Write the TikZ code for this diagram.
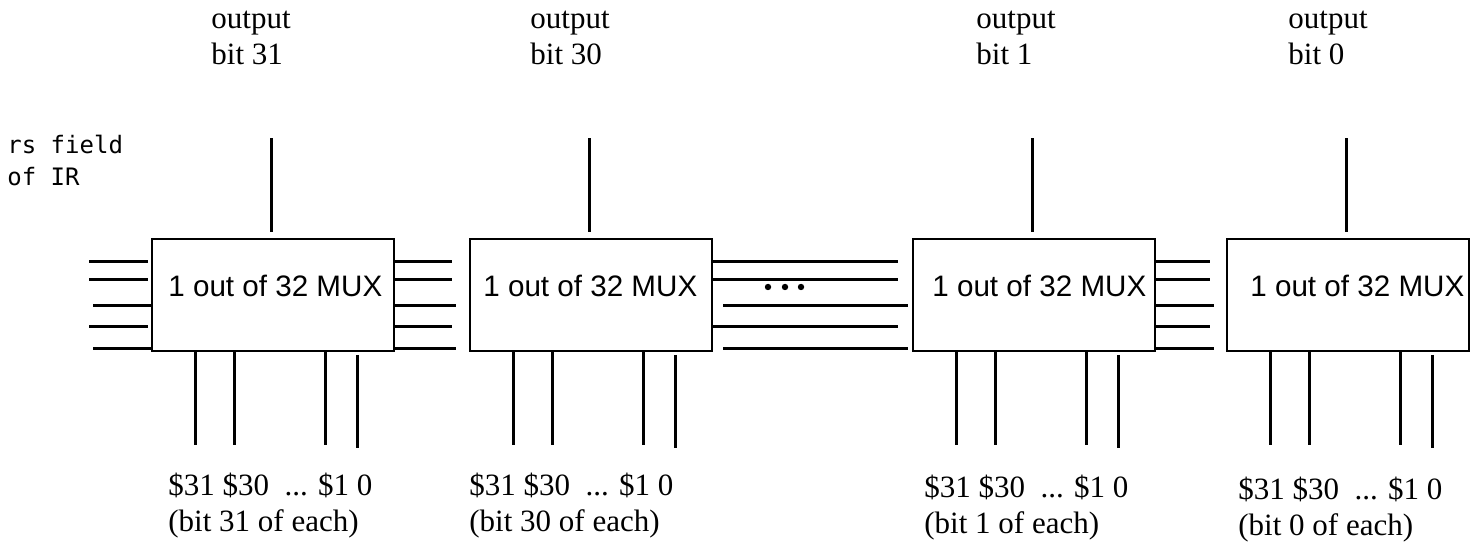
\documentclass[tikz,border=0pt]{standalone}
\usepackage{fontspec}
\setmainfont{Liberation Serif}
\newfontfamily\muxfont{Liberation Sans}
\newfontfamily\monofont{DejaVu Sans Mono}
\usetikzlibrary{calc}
\begin{document}
\begin{tikzpicture}[x=0.5pt,y=-0.5pt,
  wire/.style={line width=1.5pt},
  muxbox/.style={draw, line width=1.3pt, minimum width=121pt, minimum height=56pt, inner sep=0pt, outer sep=0pt},
  muxtext/.style={font=\muxfont\fontsize{14.8}{17}\selectfont, anchor=west, inner sep=0pt},
  toplbl/.style={font=\fontsize{15.5}{18}\selectfont, align=left, anchor=base west, inner sep=0pt},
  botlbl/.style={font=\fontsize{15.5}{18}\selectfont, align=left, anchor=base west, inner sep=0pt},
  monolbl/.style={font=\monofont\fontsize{12}{16}\selectfont, align=left, anchor=base west, inner sep=0pt},
  dot/.style={circle, fill, inner sep=0pt, minimum size=3.2pt}]
\useasboundingbox (0,0) rectangle (1476,544);

% MUX boxes
\node[muxbox] (m1) at (273,295) {};
\node[muxbox] (m2) at (591,295) {};
\node[muxbox] (m3) at (1034,295) {};
\node[muxbox] (m4) at (1348,295) {};

\node[muxtext] (t1) at (168,286) {1 out of 32 MUX};
\node[muxtext] (t2) at (483,286) {1 out of 32 MUX};
\node[muxtext] (t3) at (932,286) {1 out of 32 MUX};
\node[muxtext] (t4) at (1250,286) {1 out of 32 MUX};

% output labels (anchor = baseline of last line)
\node[toplbl] (o1) at (211,65) {output\\bit 31};
\node[toplbl] (o2) at (530,65) {output\\bit 30};
\node[toplbl] (o3) at (976,65) {output\\bit 1};
\node[toplbl] (o4) at (1288,65) {output\\bit 0};

% register labels
\node[botlbl] (b1) at (168,531) {\$31 \$30~ ... \$1 0\\(bit 31 of each)};
\node[botlbl] (b2) at (469,531) {\$31 \$30~ ... \$1 0\\(bit 30 of each)};
\node[botlbl] (b3) at (924,533) {\$31 \$30~ ... \$1 0\\(bit 1 of each)};
\node[botlbl] (b4) at (1238,535) {\$31 \$30~ ... \$1 0\\(bit 0 of each)};

% rs field label
\node[monolbl] (rs) at (7,186) {rs field\\of IR};

% vertical stubs
\foreach \m in {m1,m2,m3,m4} {
  \draw[wire] ($(\m.north)+(-2,-7)$) -- ++(0,-94);
  \draw[wire] ($(\m.south west)+(43,0)$) -- ++(0,94);
  \draw[wire] ($(\m.south west)+(82,0)$) -- ++(0,94);
  \draw[wire] ($(\m.south west)+(173,0)$) -- ++(0,94);
  \draw[wire] ($(\m.south west)+(205,4)$) -- ++(0,93);
}

% horizontal select lines
\foreach \dy in {23,41,88} {
  \draw[wire] ($(m1.north west)+(-63,\dy)$) -- ++(59,0);
  \draw[wire] ($(m1.north east)+(0,\dy)$) -- ++(58,0);
  \draw[wire] ($(m2.north east)+(0,\dy)$) -- ++(186,0);
  \draw[wire] ($(m3.north east)+(0,\dy)$) -- ++(55,0);
}
\foreach \dy in {67,110} {
  \draw[wire] ($(m1.north west)+(-59,\dy)$) -- ++(59,0);
  \draw[wire] ($(m1.north east)+(0,\dy)$) -- ++(62,0);
  \draw[wire] ($(m3.north west)+(-190,\dy)$) -- ++(185,0);
  \draw[wire] ($(m3.north east)+(0,\dy)$) -- ++(59,0);
}

% ellipsis dots
\node[dot] (d1) at (768,287) {};
\node[dot] (d2) at (785,287) {};
\node[dot] (d3) at (801,287) {};
\end{tikzpicture}
\end{document}
